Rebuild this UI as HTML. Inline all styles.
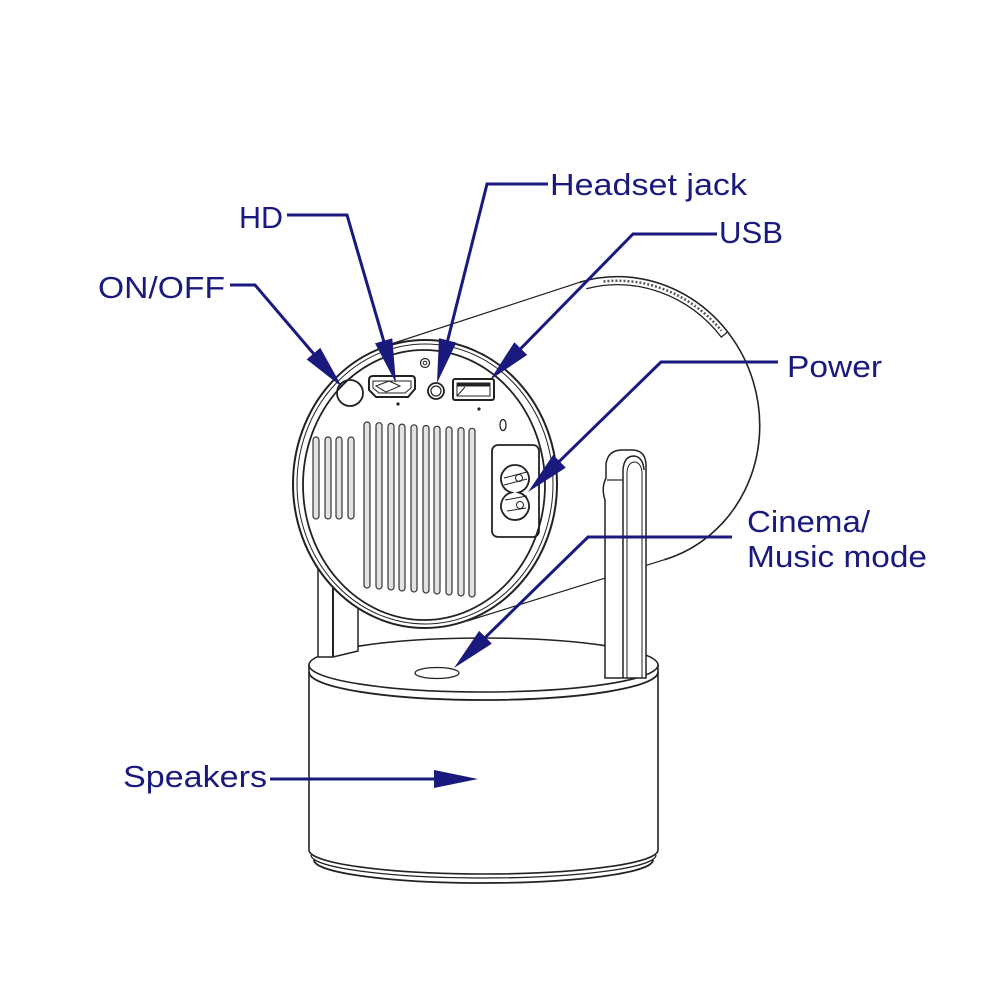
<!DOCTYPE html>
<html><head><meta charset="utf-8"><style>
html,body{margin:0;padding:0;background:#fff;}
svg{display:block;}
text{font-family:"Liberation Sans",Arial,sans-serif;font-size:31px;fill:#1a1a7e;}
</style></head><body>
<svg width="1000" height="1000" viewBox="0 0 1000 1000" xmlns="http://www.w3.org/2000/svg">
<defs>
<marker id="ah" markerUnits="userSpaceOnUse" markerWidth="44" markerHeight="18" refX="32" refY="9" orient="auto" viewBox="0 0 44 18">
<path d="M0,0 L44,9 L0,18 Z" fill="#1a1a7e"/>
</marker>
</defs>
<rect width="1000" height="1000" fill="#fff"/>

<!-- BASE -->
<g stroke="#222" fill="none" stroke-width="1.6">
<path d="M309,665 V850 A174.5,24 0 0 0 658,850 V665 Z" fill="#fff"/>
<path d="M311,855 A172.5,23 0 0 0 656,855" stroke-width="1.3"/>
<path d="M314,860 A169.5,23 0 0 0 653,860" stroke-width="1.8"/>
<ellipse cx="483.5" cy="665" rx="174.5" ry="27" fill="#fff"/>
<path d="M309,672 A174.5,28 0 0 0 658,672" stroke-width="1.8"/>
<ellipse cx="437" cy="673" rx="22" ry="5.5" stroke-width="1.3"/>
</g>

<!-- CYLINDER BODY -->
<path d="M388,345 L579.6,282.3 A137,145 -17 0 1 664.4,559.7 L467,621 Z" fill="#fff" stroke="none"/>
<g stroke="#222" fill="none">
<path d="M388,345 L579.6,282.3" stroke-width="1.2"/>
<path d="M467,621 L664.4,559.7" stroke-width="1.2"/>
<path d="M579.6,282.3 A137,145 -17 0 1 664.4,559.7" stroke-width="1.6"/>
<path d="M586.3,288.8 A129,137 -17 0 1 721.3,337.1 L727.5,332" stroke-width="1.3"/>
<path d="M603.5,281.5 A133,141 -17 0 1 721.5,330.7" stroke="#555" stroke-width="2.5" stroke-dasharray="2 2"/>
</g>

<!-- RIGHT POST -->
<g stroke="#222" fill="#fff" stroke-width="1.5">
<path d="M605,678 V500 Q601,488 606,478 V464 Q608,450 622,450 H632 Q646,450 646,466 V678 Z"/>
<path d="M623,678 V470 Q624,456 634,456 Q643,457 644,470" fill="none"/>
<path d="M627,678 V472 Q628,462 635,462 Q641,463 642,472 V678" fill="none" stroke-width="1"/>
<path d="M607,480 H623" fill="none" stroke-width="1.2"/>
</g>

<!-- LEFT POST -->
<g stroke="#222" fill="#fff" stroke-width="1.5">
<path d="M318,540 V657 H333 L358,651 V540 Z"/>
<path d="M333,540 V657" fill="none" stroke-width="2"/>
</g>

<!-- BACK PANEL -->
<g stroke="#222" fill="none">
<ellipse cx="425" cy="484" rx="132" ry="144" fill="#fff" stroke-width="2"/>
<ellipse cx="425" cy="484" rx="128" ry="140" stroke-width="1"/>
<ellipse cx="424" cy="485" rx="121" ry="135" stroke-width="1.8"/>

<!-- button -->
<circle cx="350" cy="393" r="13" stroke-width="1.8"/>
<!-- HDMI -->
<path d="M369,380 Q369,376 373,376 H412 Q415,376 415,380 V389 L408,397 H376 L369,390 Z" stroke-width="2"/>
<path d="M373,381 H411 V388 L405,393 H379 L373,388 Z" stroke-width="1"/>
<path d="M376,386 L389,381 L400,386 L386,392 Z" stroke-width="1"/>
<circle cx="398" cy="404" r="1.6" fill="#222" stroke="none"/>
<!-- jack -->
<circle cx="425" cy="363" r="4.5" stroke-width="1.2"/>
<circle cx="425" cy="363" r="1.8" stroke-width="1"/>
<circle cx="436" cy="391" r="8" stroke-width="1.8"/>
<circle cx="436" cy="391" r="5" stroke-width="1.2"/>
<!-- USB -->
<rect x="453" y="379" width="41" height="21" rx="2" stroke-width="2"/>
<rect x="457" y="383" width="33" height="13" stroke-width="1"/>
<rect x="457" y="383" width="33" height="3.5" fill="#222" stroke="none"/>
<path d="M457,396 L465,387" stroke-width="1"/>
<circle cx="479" cy="409" r="1.6" fill="#222" stroke="none"/>
<!-- small oval -->
<ellipse cx="503" cy="425" rx="3" ry="5.5" stroke-width="1.3"/>
<!-- power socket -->
<rect x="492" y="445" width="47" height="92" rx="6" stroke-width="1.8"/>
<path d="M511.3,492.5 A14,14 0 1 1 518.7,492.5 A14,14 0 1 1 511.3,492.5 Z" stroke-width="1.8"/>
<path d="M504,478 L527,472 M504,485 L527,479" stroke-width="1"/>
<circle cx="519" cy="478" r="3.5" stroke-width="1"/>
<circle cx="520" cy="505" r="3.5" stroke-width="1"/>
<path d="M505,500 L527,496 M507,511 L526,508" stroke-width="1"/>
</g>

<!-- VENTS -->
<g stroke="#333" stroke-width="1.2" fill="#e2e2e2">
<rect x="313" y="437" width="6" height="82" rx="3"/>
<rect x="325" y="437" width="6" height="82" rx="3"/>
<rect x="336" y="437" width="6" height="82" rx="3"/>
<rect x="348" y="437" width="6" height="82" rx="3"/>

<rect x="364" y="422" width="6" height="166" rx="3"/>
<rect x="376" y="422.7" width="6" height="166.3" rx="3"/>
<rect x="388" y="423.4" width="6" height="166.6" rx="3"/>
<rect x="399" y="424.1" width="6" height="166.9" rx="3"/>
<rect x="411" y="424.8" width="6" height="167.2" rx="3"/>
<rect x="423" y="425.5" width="6" height="167.5" rx="3"/>
<rect x="434" y="426.2" width="6" height="167.8" rx="3"/>
<rect x="446" y="426.9" width="6" height="168.1" rx="3"/>
<rect x="458" y="427.6" width="6" height="168.4" rx="3"/>
<rect x="469" y="428.3" width="6" height="168.7" rx="3"/>
</g>

<!-- CALLOUT LINES -->
<g stroke="#1a1a7e" stroke-width="3" fill="none" marker-end="url(#ah)">
<path d="M230,285 H255 L334.2,377.9"/>
<path d="M287,215 H347 L392.6,371.5"/>
<path d="M548,184 H487 L439.9,371.4"/>
<path d="M717,234 H633 L498.4,371.4"/>
<path d="M778,362 H661 L536.6,483.6"/>
<path d="M732,537 H588 L462.6,659.6"/>
<path d="M270,779 H466"/>
</g>

<!-- LABELS -->
<text x="98" y="298" textLength="127" lengthAdjust="spacingAndGlyphs">ON/OFF</text>
<text x="239" y="228" textLength="44" lengthAdjust="spacingAndGlyphs">HD</text>
<text x="550" y="195" textLength="197" lengthAdjust="spacingAndGlyphs">Headset jack</text>
<text x="719" y="243" textLength="64" lengthAdjust="spacingAndGlyphs">USB</text>
<text x="787" y="377" textLength="95" lengthAdjust="spacingAndGlyphs">Power</text>
<text x="747" y="532" textLength="123" lengthAdjust="spacingAndGlyphs">Cinema/</text>
<text x="747" y="567" textLength="180" lengthAdjust="spacingAndGlyphs">Music mode</text>
<text x="123" y="787" textLength="144" lengthAdjust="spacingAndGlyphs">Speakers</text>
</svg>
</body></html>
